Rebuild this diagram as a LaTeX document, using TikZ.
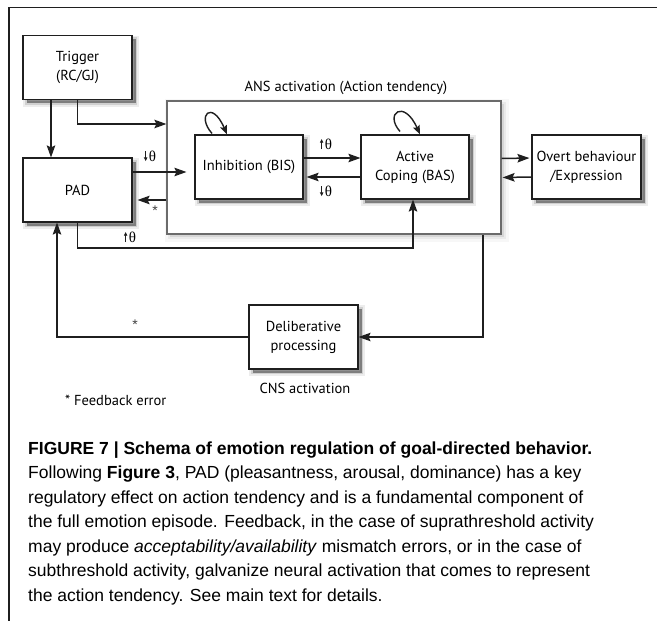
\documentclass[tikz,border=0pt]{standalone}
\usepackage{fontspec}
\setmainfont{PT Sans}
\newfontfamily\capfont{Liberation Sans}
\newfontfamily\thfont{Liberation Serif}
\usetikzlibrary{arrows.meta,shadows}

\definecolor{ink}{gray}{0.12}
\definecolor{frameline}{gray}{0.42}

% small arrows that go with the threshold symbol
\newcommand\thup{\tikz[x=1pt,y=1pt,baseline=0pt]\draw[line width=.7pt,ink,-{Triangle[length=3.6pt,width=3.4pt]}](0,0)--(0,10);}
\newcommand\thdown{\tikz[x=1pt,y=1pt,baseline=0pt]\draw[line width=.7pt,ink,-{Triangle[length=3.6pt,width=3.4pt]}](0,10)--(0,0);}
\newcommand\thlabel[1]{#1\kern1.5pt{\thfont\fontsize{15}{16}\selectfont θ}}

\tikzset{
  softshadow/.style={
    general shadow={fill=black, fill opacity=.07, draw=black, draw opacity=.07,
      line width=7pt, shadow xshift=3.5pt, shadow yshift=-3.5pt},
    general shadow={fill=black, fill opacity=.12, draw=black, draw opacity=.12,
      line width=3.5pt, shadow xshift=3.5pt, shadow yshift=-3.5pt},
    general shadow={fill=black, fill opacity=.25, shadow xshift=3.5pt, shadow yshift=-3.5pt}},
  lightshadow/.style={
    general shadow={fill=black, fill opacity=.03, draw=black, draw opacity=.03,
      line width=10pt, shadow xshift=3pt, shadow yshift=-3pt},
    general shadow={fill=black, fill opacity=.05, draw=black, draw opacity=.05,
      line width=4pt, shadow xshift=3pt, shadow yshift=-3pt}},
  blockbox/.style={draw=ink, line width=1.1pt, fill=white, softshadow,
    minimum width=109pt, minimum height=64pt, inner sep=0pt, align=center,
    font=\fontsize{14.5}{19}\selectfont},
  groupbox/.style={draw=frameline, line width=1.2pt, fill=white, lightshadow,
    minimum width=334pt, minimum height=133pt, inner sep=0pt},
  lbl/.style={inner sep=0pt, font=\fontsize{14.5}{17}\selectfont},
  star/.style={inner sep=0pt, font=\capfont\fontsize{14}{15}\selectfont, text=black!75},
  arr/.style={draw=ink, line width=1.5pt,
    -{Stealth[length=12pt,width=8.5pt,inset=2pt]}},
  thinarr/.style={arr, line width=1.1pt},
  looparr/.style={draw=ink, line width=1.4pt,
    -{Stealth[length=9pt,width=7pt,inset=1.5pt]}},
  captext/.style={anchor=base west, inner sep=0pt, font=\capfont\fontsize{17.5}{20}\selectfont},
}

\begin{document}
\begin{tikzpicture}[x=1pt,y=-1pt]
  % page
  \fill[white] (0,0) rectangle (657,621);
  \useasboundingbox (0,0) rectangle (657,621);
  \draw[ink, line width=1.8pt] (9,621) -- (9,7.5) -- (657,7.5);

  % action tendency group
  \node[groupbox] (ans) at (334,167.5) {};
  \node[lbl] (anslbl) at (346,88) {ANS activation (Action tendency)};

  % blocks
  \node[blockbox] (trig) at (77.5,67.5) {Trigger\\(RC/GJ)};
  \node[blockbox] (pad)  at (77.5,190)  {PAD};
  \node[blockbox, minimum width=108pt] (inh) at (249,167) {Inhibition (BIS)};
  \node[blockbox, minimum width=108pt] (act) at (415,167) {Active\\Coping (BAS)};
  \node[blockbox] (ovt)  at (586.5,167) {Overt behaviour\\/Expression};
  \node[blockbox] (del)  at (303.5,337) {Deliberative\\processing};
  \node[lbl] (cns) at (305,388) {CNS activation};
  \node[lbl, anchor=west] (fb) at (65,400) {* Feedback error};

  % threshold and error marks
  \node[lbl] (t1) at (150,156) {\thlabel{\thdown}};
  \node[star] (s1) at (155,211) {*};
  \node[lbl] (t2) at (326,144) {\thlabel{\thup}};
  \node[lbl] (t3) at (326,191) {\thlabel{\thdown}};
  \node[lbl] (t4) at (130,237) {\thlabel{\thup}};
  \node[star] (s2) at (135,325) {*};

  % routing points
  \coordinate (padbot) at (77.5,248);

  % connectors
  \draw[arr] ([xshift=-26.5pt]trig.south) -- ([xshift=-26.5pt]pad.north);
  \draw[arr] (trig.south) |- ([yshift=43.5pt]ans.west);
  \draw[arr, shorten >=8pt] ([yshift=18pt]pad.east) -- ([yshift=-5pt]inh.west);
  \draw[arr, shorten >=5pt] ([yshift=-32.5pt]ans.west) -- ([yshift=-10pt]pad.east);
  \draw[arr] ([yshift=9pt]inh.east) -- ([yshift=9pt]act.west);
  \draw[arr, shorten >=3pt] ([yshift=-10pt]act.west) -- ([yshift=-10pt]inh.east);
  \draw[arr, shorten >=2pt] ([yshift=9pt]ans.east) -- ([yshift=9pt]ovt.west);
  \draw[arr, shorten >=1pt] ([yshift=-10pt]ovt.west) -- ([yshift=-10pt]ans.east);
  \draw[arr] (pad.south) -- (padbot) -| ([xshift=-2pt]act.south);
  \draw[arr] (del.west) -| ([xshift=-20.5pt]pad.south);
  \draw[thinarr] ([xshift=149pt]ans.south) |- (del.east);

  % self-excitation loops
  \draw[looparr] ([xshift=-37pt,yshift=1pt]inh.north) .. controls +(-16,-18) and +(-15,-35) .. ([xshift=-22pt]inh.north);
  \draw[looparr] ([xshift=-15pt,yshift=3pt]act.north) .. controls +(-16,-18) and +(-16,-36) .. ([xshift=5pt]act.north);

  % caption
  \node[captext] (c1) at (28,454) {\bfseries FIGURE 7 | Schema of emotion regulation of goal-directed behavior.};
  \node[captext] (c2) at (28,478.5) {Following \textbf{Figure 3}, PAD (pleasantness, arousal, dominance) has a key};
  \node[captext] (c3) at (28,503) {regulatory effect on action tendency and is a fundamental component of};
  \node[captext] (c4) at (28,527.5) {the full emotion episode. Feedback, in the case of suprathreshold activity};
  \node[captext] (c5) at (28,552) {may produce \textit{acceptability/availability} mismatch errors, or in the case of};
  \node[captext] (c6) at (28,576.5) {subthreshold activity, galvanize neural activation that comes to represent};
  \node[captext] (c7) at (28,601) {the action tendency. See main text for details.};
\end{tikzpicture}
\end{document}
